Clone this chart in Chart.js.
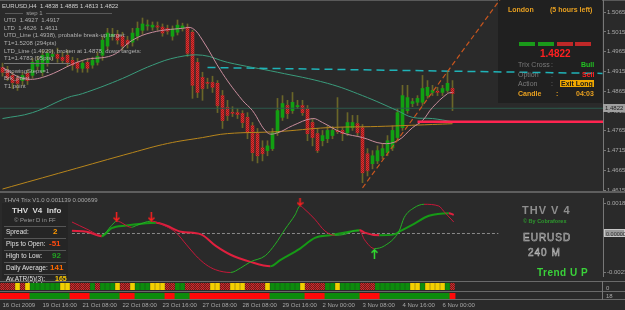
<!DOCTYPE html>
<html><head><meta charset="utf-8">
<script src="https://cdn.jsdelivr.net/npm/chart.js@4.4.1/dist/chart.umd.min.js"></script>
<style>
body{margin:0;background:#2a2a2a;}
#wrap{position:relative;width:625px;height:310px;overflow:hidden;background:#2a2a2a;font-family:"Liberation Sans",Arial,sans-serif;}
canvas{position:absolute;left:0;z-index:2;}
.t{position:absolute;white-space:nowrap;line-height:1;z-index:3;}
.d{position:absolute;z-index:1;}
.s{position:absolute;z-index:4;}
</style></head><body><div id="wrap">
<div class="d" style="left:0;top:0;width:625px;height:1px;background:#5a5a5a"></div>
<div class="d" style="left:498px;top:0;width:104px;height:103px;background:#202020"></div>
<div class="s" style="left:0;top:191px;width:625px;height:2px;background:#5e5e5e"></div>
<div class="d" style="left:2px;top:203px;width:66px;height:76px;background:#252525"></div>
<div class="d" style="left:4px;top:226px;width:62px;height:1px;background:#555"></div>
<div class="d" style="left:4px;top:238px;width:62px;height:1px;background:#555"></div>
<div class="d" style="left:4px;top:250px;width:62px;height:1px;background:#555"></div>
<div class="d" style="left:4px;top:262px;width:62px;height:1px;background:#555"></div>
<div class="d" style="left:4px;top:274px;width:62px;height:1px;background:#555"></div>
<div class="s" style="left:0;top:281px;width:625px;height:1px;background:#6a6a6a"></div>
<div class="s" style="left:0;top:291px;width:625px;height:1px;background:#6a6a6a"></div>
<div class="s" style="left:0;top:299px;width:625px;height:1px;background:#6a6a6a"></div>
<div class="s" style="left:602px;top:281px;width:1px;height:19px;background:#777"></div>
<div class="t" style="left:4px;top:63px;width:66px;height:1px;background:#777"></div>
<div class="t" style="left:519px;top:42px;width:16px;height:4px;background:#1a9a1a"></div>
<div class="t" style="left:538px;top:42px;width:16px;height:4px;background:#1a9a1a"></div>
<div class="t" style="left:557px;top:42px;width:16px;height:4px;background:#c02828"></div>
<div class="t" style="left:575px;top:42px;width:16px;height:4px;background:#c02828"></div>

<canvas id="main" width="625" height="191" style="top:0"></canvas>
<canvas id="ind" width="625" height="88" style="top:193px"></canvas>
<canvas id="strip1" width="625" height="7" style="top:283px;z-index:5"></canvas>
<canvas id="strip2" width="625" height="17" style="top:293px;z-index:5"></canvas>

<div class="t" style="left:2px;top:3px;font-size:6px;color:#cfcfcf">EURUSD,H4&nbsp; 1.4838 1.4885 1.4813 1.4822</div>
<div class="t" style="left:5px;top:10px;font-size:6px;color:#a0a0a0">———&nbsp; step 1 &nbsp;———————————</div>
<div class="t" style="left:4px;top:17px;font-size:6px;color:#b0b0b0">UTD&nbsp; 1.4927&nbsp; 1.4917</div>
<div class="t" style="left:4px;top:25px;font-size:6px;color:#b0b0b0">LTD&nbsp; 1.4626&nbsp; 1.4611</div>
<div class="t" style="left:4px;top:32px;font-size:6px;color:#b0b0b0">UTD_Line (1.4938), probable break-up target:</div>
<div class="t" style="left:4px;top:40px;font-size:6px;color:#b0b0b0">T1=1.5208 (294pts)</div>
<div class="t" style="left:4px;top:48px;font-size:6px;color:#b0b0b0">LTD_Line (1.4929), broken at 1.4878, down targets:</div>
<div class="t" style="left:4px;top:55px;font-size:6px;color:#b0b0b0">T1=1.4783 (95pts)</div>
<div class="t" style="left:4px;top:68px;font-size:6px;color:#b0b0b0">ShowingSteps=1</div>
<div class="t" style="left:4px;top:75px;font-size:6px;color:#b0b0b0">Brk_point</div>
<div class="t" style="left:4px;top:83px;font-size:6px;color:#b0b0b0">T1 point</div>

<div class="t" style="left:508px;top:6px;font-size:7px;font-weight:bold;color:#e8a020">London</div>
<div class="t" style="left:550px;top:6px;font-size:7px;font-weight:bold;color:#e8a020">(5 hours left)</div>
<div class="t" style="left:540px;top:49px;font-size:10px;font-weight:bold;color:#ff2020">1.4822</div>
<div class="t" style="left:518px;top:61px;font-size:7px;color:#7a7a7a">Trix Cross</div>
<div class="t" style="left:551px;top:61px;font-size:7px;color:#7a7a7a">:</div>
<div class="t" style="left:581px;top:61px;font-size:7px;font-weight:bold;color:#22c022">Bull</div>
<div class="t" style="left:518px;top:71px;font-size:7px;color:#7a7a7a">Option</div>
<div class="t" style="left:551px;top:71px;font-size:7px;color:#7a7a7a">:</div>
<div class="t" style="left:582px;top:71px;font-size:7px;font-weight:bold;color:#ff2020">Sell</div>
<div class="t" style="left:518px;top:80px;font-size:7px;color:#7a7a7a">Action</div>
<div class="t" style="left:551px;top:80px;font-size:7px;color:#7a7a7a">:</div>
<div class="t" style="left:560px;top:80px;font-size:7px;font-weight:bold;color:#1a1a1a;background:#f0a800;padding:0 1px">Exit Long</div>
<div class="t" style="left:518px;top:90px;font-size:7px;font-weight:bold;color:#e8a020">Candle</div>
<div class="t" style="left:556px;top:90px;font-size:7px;font-weight:bold;color:#e8a020">:</div>
<div class="t" style="left:576px;top:90px;font-size:7px;font-weight:bold;color:#e8a020">04:03</div>
<div class="t" style="left:603px;top:104px;width:22px;height:8px;background:#a0a0a0;color:#222;font-size:6px;line-height:8px;padding-left:2px;box-sizing:border-box">1.4822</div>

<div class="t" style="left:4px;top:197px;font-size:6px;color:#a8a8a8">THV4 Trix V1.0 0.001139 0.000699</div>
<div class="t" style="left:12px;top:207px;font-size:8px;font-weight:bold;color:#d8d8d8">THV&nbsp; V4&nbsp; Info</div>
<div class="t" style="left:14px;top:217px;font-size:6px;color:#9a9a9a">© Peter D in FF</div>
<div class="t" style="left:6px;top:229px;font-size:6.5px;color:#e0e0e0">Spread:</div>
<div class="t" style="left:53px;top:228px;font-size:8px;font-weight:bold;color:#ff9900">2</div>
<div class="t" style="left:6px;top:241px;font-size:6.5px;color:#e0e0e0">Pips to Open:</div>
<div class="t" style="left:49px;top:240px;font-size:8px;font-weight:bold;color:#ff4a10">-51</div>
<div class="t" style="left:6px;top:253px;font-size:6.5px;color:#e0e0e0">High to Low:</div>
<div class="t" style="left:52px;top:252px;font-size:8px;font-weight:bold;color:#22a022">92</div>
<div class="t" style="left:6px;top:265px;font-size:6.5px;color:#e0e0e0">Daily Average:</div>
<div class="t" style="left:50px;top:264px;font-size:8px;font-weight:bold;color:#ff6a00">141</div>
<div class="t" style="left:6px;top:276px;font-size:6.5px;color:#e0e0e0">Av.ATR(5)(3):</div>
<div class="t" style="left:55px;top:275px;font-size:7px;font-weight:bold;color:#ffcc00">165</div>

<div class="t" style="left:522px;top:205px;font-size:11px;font-weight:bold;color:#8e8e8e;letter-spacing:1px">THV V 4</div>
<div class="t" style="left:523px;top:219px;font-size:5.5px;font-weight:bold;color:#2e9a2e">© By Cobraforex</div>
<div class="t" style="left:523px;top:233px;font-size:10px;color:#2a2a2a;-webkit-text-stroke:0.6px #b8b8b8;letter-spacing:1px">EURUSD</div>
<div class="t" style="left:528px;top:248px;font-size:10px;color:#2a2a2a;-webkit-text-stroke:0.6px #b8b8b8;letter-spacing:1px">240 M</div>
<div class="t" style="left:537px;top:268px;font-size:10px;font-weight:bold;color:#3ad23a;letter-spacing:0.5px">Trend U P</div>
<div class="t" style="left:604px;top:229px;width:21px;height:8px;background:#9a9a9a;border:1px solid #c8c8c8;color:#333;font-size:5.5px;line-height:8px;padding-left:1px;box-sizing:border-box">0.000000</div>
<div class="t" style="left:606px;top:285px;font-size:6px;color:#a8a8a8;z-index:6">0</div>
<div class="t" style="left:606px;top:293px;font-size:6px;color:#a8a8a8;z-index:6">18</div>
</div>
<script>
// ---------- DATA ----------
const openPrices=[1.4925,1.4918,1.4905,1.4898,1.4892,1.4910,1.4905,1.4928,1.4913,1.4936,
1.4953,1.4958,1.4951,1.4956,1.4943,1.4938,1.4923,1.4938,1.4931,1.4938,
1.4956,1.4979,1.5004,1.5009,1.5004,1.4994,1.4989,1.5004,1.5019,1.5030,
1.5027,1.5030,1.5027,1.5024,1.5004,1.5014,1.5024,1.5027,1.5014,1.4938,
1.4900,1.4887,1.4887,1.4885,1.4854,1.4824,1.4811,1.4811,1.4809,1.4799,
1.4778,1.4758,1.4722,1.4715,1.4720,1.4760,1.4799,1.4829,1.4816,1.4826,
1.4829,1.4821,1.4786,1.4758,1.4740,1.4745,1.4753,1.4766,1.4766,1.4760,
1.4773,1.4783,1.4773,1.4707,1.4682,1.4689,1.4702,1.4710,1.4722,1.4748,
1.4773,1.4816,1.4834,1.4837,1.4837,1.4854,1.4862,1.4865,1.4862,1.4867,
1.4872];
const closePrices=[1.4913,1.4898,1.4887,1.4885,1.4905,1.4892,1.4938,1.4943,1.4956,1.4961,
1.4958,1.4948,1.4943,1.4938,1.4931,1.4923,1.4936,1.4923,1.4943,1.4953,
1.4994,1.5012,1.5009,1.4994,1.4979,1.4984,1.5012,1.5024,1.5035,1.5032,
1.5032,1.5027,1.5012,1.5017,1.5022,1.5032,1.5030,1.4961,1.4880,1.4862,
1.4872,1.4885,1.4875,1.4829,1.4791,1.4804,1.4809,1.4806,1.4786,1.4760,
1.4710,1.4702,1.4707,1.4727,1.4760,1.4816,1.4834,1.4809,1.4837,1.4829,
1.4811,1.4758,1.4748,1.4715,1.4753,1.4766,1.4766,1.4763,1.4758,1.4786,
1.4786,1.4760,1.4659,1.4664,1.4702,1.4715,1.4720,1.4740,1.4766,1.4811,
1.4854,1.4849,1.4839,1.4847,1.4872,1.4875,1.4867,1.4862,1.4872,1.4885,
1.4859];
const highPrices=[1.4936,1.4928,1.4913,1.4905,1.4913,1.4918,1.4948,1.4953,1.4969,1.4969,
1.4969,1.4974,1.4964,1.4969,1.4951,1.4948,1.4943,1.4948,1.4951,1.4964,
1.5004,1.5024,1.5024,1.5019,1.5014,1.5004,1.5024,1.5040,1.5050,1.5045,
1.5040,1.5040,1.5035,1.5032,1.5030,1.5045,1.5037,1.5035,1.5019,1.4948,
1.4913,1.4898,1.4903,1.4892,1.4867,1.4842,1.4826,1.4821,1.4816,1.4811,
1.4786,1.4771,1.4740,1.4740,1.4771,1.4847,1.4854,1.4842,1.4862,1.4842,
1.4842,1.4829,1.4796,1.4771,1.4766,1.4778,1.4776,1.4849,1.4773,1.4811,
1.4804,1.4804,1.4781,1.4720,1.4715,1.4727,1.4733,1.4753,1.4778,1.4821,
1.4880,1.4880,1.4847,1.4854,1.4905,1.4892,1.4880,1.4875,1.4880,1.4913,
1.4892];
const lowPrices=[1.4903,1.4892,1.4872,1.4867,1.4880,1.4882,1.4898,1.4918,1.4903,1.4928,
1.4943,1.4938,1.4936,1.4928,1.4918,1.4913,1.4913,1.4913,1.4923,1.4931,
1.4943,1.4969,1.4994,1.4984,1.4969,1.4974,1.4979,1.4994,1.5009,1.5019,
1.5019,1.5019,1.5004,1.5009,1.4994,1.5007,1.5017,1.4953,1.4847,1.4849,
1.4842,1.4872,1.4862,1.4811,1.4771,1.4791,1.4801,1.4796,1.4773,1.4745,
1.4689,1.4684,1.4689,1.4702,1.4715,1.4753,1.4791,1.4796,1.4809,1.4821,
1.4804,1.4740,1.4727,1.4710,1.4727,1.4735,1.4745,1.4758,1.4740,1.4753,
1.4766,1.4753,1.4634,1.4651,1.4669,1.4682,1.4694,1.4702,1.4715,1.4740,
1.4766,1.4809,1.4826,1.4829,1.4829,1.4847,1.4854,1.4854,1.4854,1.4862,
1.4816];

const pinkBars=[0,4,8,16,22,26,30,36,38,40,44,48,50,53,55,58,62,64,68,72,76,79,82,84,86,89,90];
const pinkVals=[1.4925,1.4898,1.4900,1.4943,1.4956,1.4994,1.5014,1.5024,1.5024,1.4994,1.4910,1.4842,1.4816,1.4760,1.4760,1.4778,1.4796,1.4786,1.4760,1.4748,1.4733,1.4740,1.4773,1.4791,1.4824,1.4859,1.4862];
const seaBars=[0,6,13,16,23,30,35,40,45,55,65,72,79,82,86,90];
const seaVals=[1.4796,1.4811,1.4849,1.4859,1.4892,1.4931,1.4951,1.4956,1.4938,1.4913,1.4885,1.4854,1.4816,1.4799,1.4796,1.4788];
const goldBars=[0,13,26,33,40,45,55,65,75,86,90];
const goldVals=[1.4618,1.4664,1.4710,1.4733,1.4748,1.4758,1.4763,1.4773,1.4776,1.4781,1.4783];

const lastPrice=1.4822;
const tealLineBars=[41,120];  const tealLineVals=[1.4925,1.4910];
const redLevelBars=[83,121];  const redLevelVals=[1.4788,1.4788];
const channelBars=[72,100];   const channelVals=[1.4621,1.5105];

const priceTicks=[1.5065,1.5015,1.4965,1.4915,1.4865,1.4815,1.4765,1.4715,1.4665,1.4615];

const trixBars=[13,16,19,21,22,25,26,29,32,34,36,38,40,42,45,47,49,52,54,56,58,59,60,62,64,66,68,70,71,72,74,76,79,80,82,84,87,88,90];
const trixVals=[0.000707,0.000272,-0.000109,0.000490,0.000762,0.000381,0.000490,0.000762,0.000435,0.000054,-0.000653,-0.001360,-0.001904,-0.002230,-0.002394,-0.002122,-0.001741,-0.001360,-0.000653,0.000272,0.001142,0.001686,0.001469,0.000870,0.000163,-0.000109,-0.000054,0.000163,0.000163,-0.000381,-0.000925,-0.000762,0.000163,0.000979,0.001578,0.001795,0.001686,0.001360,0.000707];
const signalBars=[13,16,19,21,24,27,30,32,35,39,42,45,49,53,55,59,62,65,70,71,72,75,78,79,82,85,89,90];
const signalVals=[0.000163,0.000109,-0.000163,0.000326,0.000490,0.000598,0.000653,0.000490,0.000109,-0.000054,-0.000762,-0.001306,-0.001741,-0.002013,-0.001632,-0.000925,-0.000272,-0.000109,0.000163,0.000218,0.000054,-0.000109,-0.000054,0.000109,0.000598,0.001088,0.001251,0.001142];
const sellArrowBars=[22,29,59];  const sellArrowVals=[0.00104,0.00104,0.00197];
const buyArrowBars=[74];         const buyArrowVals=[-0.00124];
const zeroLineBars=[13,99];
const indTicks=[0.00185,-0.00238];
const indTickLabels=['0.00185','-0.00238'];

const strip1States='RRRYRYGGGGGGYYRRRRGRGGGYRRYGGGYYYRRGGRRRRRYYRRYYYRRRRYGGGGGGYRRRRGGYGGGGRRRGGGGGGGYYGYYYYGR'.split('');
const strip2States='RRRRRRGGGGGGGGRRRRGGGGGGRRRGGGGGGRRGGGRRRRRRRRRRRRRRRRGGGGGGGRRRRGGGGGGGRRRRGGGGGGGGGGGGGGR'.split('');

const timeLabelBars=[0,8,16,24,32,40,48,56,64,72,80,88];
const timeLabels=['16 Oct 2009','19 Oct 16:00','21 Oct 08:00','22 Oct 08:00','23 Oct 16:00','27 Oct 08:00','28 Oct 08:00','29 Oct 16:00','2 Nov 00:00','3 Nov 08:00','4 Nov 16:00','6 Nov 00:00'];

// ---------- STYLE HELPERS ----------
const FONT='"Liberation Sans", Arial, sans-serif';
function pat(a,b){const c=document.createElement('canvas');c.width=2;c.height=2;const g=c.getContext('2d');g.fillStyle=a;g.fillRect(0,0,2,2);g.fillStyle=b;g.fillRect(0,0,1,1);g.fillRect(1,1,1,1);return g.createPattern(c,'repeat');}
const redCandle=pat('#e03030','#9a1c1c');
const redCell=pat('#d03030','#7a1616');
const GREEN_BODY='#12a012';
const pts=(xs,ys)=>xs.map((x,i)=>({x:x,y:ys[i]}));
const X_MIN=-0.5, X_MAX=120.1;
const xHidden={type:'linear',min:X_MIN,max:X_MAX,display:false,offset:false};
const base={responsive:false,animation:false,events:[],plugins:{legend:{display:false},tooltip:{enabled:false}}};

function arrowImg(color,down){
  const c=document.createElement('canvas');c.width=7;c.height=10;const g=c.getContext('2d');
  g.strokeStyle=color;g.lineWidth=1.5;g.beginPath();
  if(down){g.moveTo(3.5,0);g.lineTo(3.5,9);g.moveTo(0.5,6);g.lineTo(3.5,9);g.lineTo(6.5,6);}
  else{g.moveTo(3.5,10);g.lineTo(3.5,1);g.moveTo(0.5,4);g.lineTo(3.5,1);g.lineTo(6.5,4);}
  g.stroke();return c;
}

const idx=openPrices.map((_,i)=>i);
// ---------- MAIN CHART ----------
new Chart(document.getElementById('main'),{
  type:'bar',
  data:{datasets:[
    {type:'line',order:1,data:pts(channelBars,channelVals),borderColor:'#c8561e',borderWidth:1.2,borderDash:[5,3],pointRadius:0},
    {type:'line',order:2,data:pts(tealLineBars,tealLineVals),borderColor:'#1fb3b8',borderWidth:1.5,borderDash:[8,5],pointRadius:0},
    {type:'line',order:2,data:pts(redLevelBars,redLevelVals),borderColor:'#ff2450',borderWidth:2.5,pointRadius:0},
    {type:'line',order:3,data:pts(pinkBars,pinkVals),borderColor:'#c98d9d',borderWidth:1,pointRadius:0,tension:0.4},
    {type:'line',order:4,data:pts(seaBars,seaVals),borderColor:'#3a9c7c',borderWidth:1,pointRadius:0,tension:0.4},
    {type:'line',order:5,data:pts(goldBars,goldVals),borderColor:'#b8861c',borderWidth:1,pointRadius:0,tension:0.4},
    {type:'line',order:8,data:[{x:X_MIN,y:lastPrice},{x:121,y:lastPrice}],borderColor:'#2c5a4c',borderWidth:1,pointRadius:0},
    {type:'bar',order:9,grouped:false,barThickness:3,minBarLength:1,
      data:idx.map(i=>({x:i,y:[openPrices[i],closePrices[i]]})),
      backgroundColor:idx.map(i=>closePrices[i]>=openPrices[i]?GREEN_BODY:redCandle)},
    {type:'bar',order:10,grouped:false,barThickness:1,
      data:idx.map(i=>({x:i,y:[lowPrices[i],highPrices[i]]})),backgroundColor:'#6a6628'}
  ]},
  options:{...base,layout:{padding:0},
    scales:{
      x:xHidden,
      y:{type:'linear',position:'right',min:1.4613,max:1.50955,
        afterFit(s){s.width=22;s.paddingTop=0;s.paddingBottom=0;},
        afterBuildTicks(s){s.ticks=priceTicks.map(v=>({value:v}));},
        ticks:{color:'#a8a8a8',font:{size:6,family:FONT},padding:1,callback:v=>Number(v).toFixed(4)},
        grid:{drawOnChartArea:false,tickLength:3,color:'#777'},border:{color:'#777'}}
    }}
});

// ---------- INDICATOR ----------
const segCol=(g,r)=>({borderColor:c=>c.p1.parsed.y>=c.p0.parsed.y?g:r});
new Chart(document.getElementById('ind'),{
  type:'line',
  data:{datasets:[
    {order:1,data:pts(sellArrowBars,sellArrowVals),showLine:false,pointStyle:arrowImg('#ff2020',true),pointRadius:4},
    {order:1,data:pts(buyArrowBars,buyArrowVals),showLine:false,pointStyle:arrowImg('#30e030',false),pointRadius:4},
    {order:2,data:pts(trixBars,trixVals),borderWidth:1,pointRadius:0,cubicInterpolationMode:'monotone',segment:segCol('#26b026','#c8183a'),borderColor:'#c8183a'},
    {order:3,data:pts(signalBars,signalVals),borderWidth:2,pointRadius:0,cubicInterpolationMode:'monotone',segment:segCol('#169a16','#e0203e'),borderColor:'#e0203e'},
    {order:4,data:[{x:zeroLineBars[0],y:0},{x:zeroLineBars[1],y:0}],borderColor:'#8a8a8a',borderWidth:1,borderDash:[3,2],pointRadius:0}
  ]},
  options:{...base,layout:{padding:0},
    scales:{
      x:xHidden,
      y:{type:'linear',position:'right',min:-0.00261,max:0.00218,
        afterFit(s){s.width=22;s.paddingTop=0;s.paddingBottom=0;},
        afterBuildTicks(s){s.ticks=indTicks.map(v=>({value:v}));},
        ticks:{color:'#a8a8a8',font:{size:6,family:FONT},padding:1,callback:(v,i)=>indTickLabels[i]},
        grid:{drawOnChartArea:false,tickLength:3,color:'#777'},border:{color:'#777'}}
    }}
});

// ---------- STRIPS ----------
const c1={R:redCell,Y:'#f2d000',G:'#0c8c0c'};
const c2={R:'#ff0a0a',G:'#0c8c0c'};
new Chart(document.getElementById('strip1'),{
  type:'bar',
  data:{datasets:[{data:strip1States.map((s,i)=>({x:i,y:1})),backgroundColor:strip1States.map(s=>c1[s]),barThickness:4}]},
  options:{...base,layout:{padding:{right:22}},
    scales:{x:xHidden,y:{min:0,max:1,display:false}}}
});
new Chart(document.getElementById('strip2'),{
  type:'bar',
  data:{datasets:[{data:strip2States.map((s,i)=>({x:i,y:1})),backgroundColor:strip2States.map(s=>c2[s]),barThickness:5.2}]},
  options:{...base,layout:{padding:{right:22}},
    scales:{
      x:{type:'linear',min:X_MIN,max:X_MAX,offset:false,
        afterFit(s){s.height=11;s.paddingLeft=0;s.paddingRight=0;},
        afterBuildTicks(s){s.ticks=timeLabelBars.map(v=>({value:v}));},
        ticks:{color:'#a8a8a8',font:{size:6,family:FONT},padding:3,autoSkip:false,maxRotation:0,align:'start',
          callback:(v,i)=>timeLabels[i]},
        grid:{display:false,drawTicks:false},border:{display:false}},
      y:{min:0,max:1,display:false}}}
});
</script>
</body></html>
